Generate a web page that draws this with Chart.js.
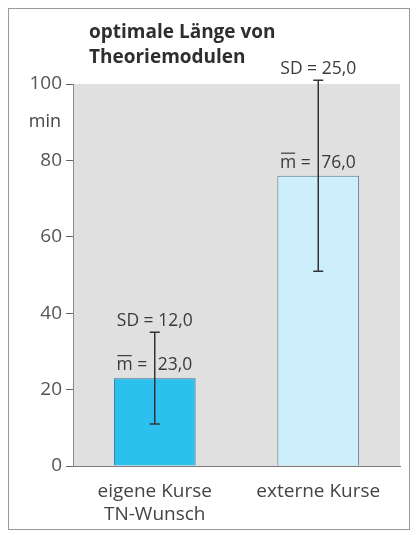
<!DOCTYPE html>
<html>
<head>
<meta charset="utf-8">
<script src="https://cdn.jsdelivr.net/npm/chart.js@4.4.0/dist/chart.umd.min.js"></script>
<style>
  html, body { margin: 0; padding: 0; background: #fff; }
  #wrap { width: 417px; height: 535px; position: relative; }
</style>
</head>
<body>
<div id="wrap"><canvas id="chart" width="417" height="535"></canvas></div>
<script>
const categories = [['eigene Kurse', 'TN-Wunsch'], 'externe Kurse'];
const means = [23.0, 76.0];
const sds = [12.0, 25.0];
const yTicks = [0, 20, 40, 60, 80, 100];

const fmt = v => v.toFixed(1).replace('.', ',');

const decorPlugin = {
  id: 'decor',
  beforeDraw(chart) {
    const { ctx, chartArea: a } = chart;
    ctx.save();
    ctx.fillStyle = '#e0e0e0';
    ctx.fillRect(a.left, a.top, a.right - a.left, a.bottom - a.top);
    // outer frame
    ctx.strokeStyle = '#9a9a9a';
    ctx.lineWidth = 1;
    ctx.strokeRect(8.5, 8.5, 401, 521);
    ctx.restore();
  },
  afterDraw(chart) {
    const { ctx } = chart;
    const x = chart.scales.x, y = chart.scales.y;
    ctx.save();
    // title
    ctx.fillStyle = '#2e2e2e';
    ctx.font = 'bold 19px "Open Sans", sans-serif';
    ctx.textAlign = 'left';
    ctx.textBaseline = 'alphabetic';
    ctx.fillText('optimale Länge von', 89, 38);
    ctx.fillText('Theoriemodulen', 89, 63);
    // unit label
    ctx.fillStyle = '#444';
    ctx.font = '18px "Open Sans", sans-serif';
    ctx.textAlign = 'right';
    ctx.textBaseline = 'middle';
    ctx.fillText('min', 61, y.getPixelForValue(90));

    means.forEach((m, i) => {
      const cx = x.getPixelForValue(i);
      const top = y.getPixelForValue(m + sds[i]);
      const bot = y.getPixelForValue(m - sds[i]);
      // error bar
      ctx.strokeStyle = '#333';
      ctx.lineWidth = 1.5;
      ctx.beginPath();
      ctx.moveTo(cx, top); ctx.lineTo(cx, bot);
      ctx.moveTo(cx - 5, top); ctx.lineTo(cx + 5, top);
      ctx.moveTo(cx - 5, bot); ctx.lineTo(cx + 5, bot);
      ctx.stroke();
      // labels
      ctx.fillStyle = '#3a3a3a';
      ctx.font = '17.5px "Open Sans", sans-serif';
      ctx.textBaseline = 'alphabetic';
      ctx.textAlign = 'center';
      ctx.fillText('SD = ' + fmt(sds[i]), cx, top - 6);
      const barTop = y.getPixelForValue(m);
      const mText = 'm = ';
      const valText = fmt(m);
      ctx.textAlign = 'left';
      const wm = ctx.measureText(mText).width;
      const startX = cx - wm - 3;
      const by = barTop - 8;
      ctx.fillText(mText, startX, by);
      ctx.fillText(valText, cx + 3, by);
      const mw = ctx.measureText('m').width;
      ctx.lineWidth = 1.2;
      ctx.strokeStyle = '#3a3a3a';
      ctx.beginPath();
      ctx.moveTo(startX + 1, by - 14.5);
      ctx.lineTo(startX + mw - 1, by - 14.5);
      ctx.stroke();
    });
    ctx.restore();
  }
};

new Chart(document.getElementById('chart'), {
  type: 'bar',
  data: {
    labels: categories,
    datasets: [{
      data: means,
      backgroundColor: ['#2cc0ef', '#cdeefb'],
      borderColor: ['#35708c', '#56758a'],
      borderWidth: 1,
      borderSkipped: 'bottom',
      categoryPercentage: 1,
      barPercentage: 0.5
    }]
  },
  options: {
    responsive: false,
    animation: false,
    layout: { padding: { left: 0, right: 17, top: 84, bottom: 0 } },
    plugins: { legend: { display: false }, tooltip: { enabled: false } },
    scales: {
      x: {
        grid: { display: false },
        border: { color: '#7a7a7a', width: 1 },
        ticks: { color: '#444', font: { size: 19, family: '"Open Sans", sans-serif' }, padding: 6, maxRotation: 0 },
        afterFit(s) { s.height = 69; }
      },
      y: {
        min: 0,
        max: 100,
        afterBuildTicks(s) { s.ticks = yTicks.map(v => ({ value: v })); },
        grid: { drawOnChartArea: false, drawTicks: true, tickLength: 7, color: '#666' },
        border: { color: '#8a8a8a', width: 1 },
        ticks: { color: '#555', font: { size: 19, family: '"Open Sans", sans-serif' }, padding: 4 },
        afterFit(s) { s.width = 73; }
      }
    }
  },
  plugins: [decorPlugin]
});
</script>
</body>
</html>
